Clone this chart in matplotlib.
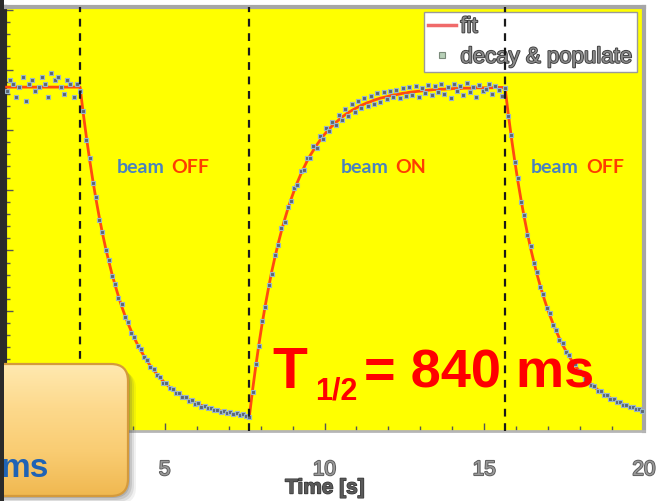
import numpy as np
import matplotlib
matplotlib.use("Agg")
import matplotlib.pyplot as plt
from matplotlib.patches import FancyBboxPatch, Rectangle
from matplotlib.lines import Line2D
from matplotlib.ticker import MultipleLocator
from matplotlib.colors import LinearSegmentedColormap
import matplotlib.patheffects as pe

# ---------------- data ----------------
t_start, t_step, n_pts = 0.05, 0.1, 200          # time bins [s]
beam_switch_times = [2.35, 7.65, 15.65]          # OFF, ON, OFF
beam_states = ["OFF", "ON", "OFF"]
xticks = [0, 5, 10, 15, 20]
xtick_labels = ["", "5", "10", "15", "20"]       # "0" is hidden by the call-out box
half_life_label = "840 ms"

fit_values = [
    # plateau (beam on)
    1.0, 1.0, 1.0, 1.0, 1.0, 1.0, 1.0, 1.0, 1.0, 1.0, 1.0, 1.0,
    1.0, 1.0, 1.0, 1.0, 1.0, 1.0, 1.0, 1.0, 1.0, 1.0, 1.0, 1.0,
    # decay (beam off)
    0.923, 0.853, 0.788, 0.728, 0.673, 0.622, 0.575, 0.532, 0.493, 0.456,
    0.423, 0.392, 0.363, 0.337, 0.313, 0.291, 0.270, 0.251, 0.234, 0.218,
    0.203, 0.190, 0.177, 0.166, 0.155, 0.145, 0.136, 0.128, 0.120, 0.113,
    0.107, 0.101, 0.096, 0.091, 0.086, 0.082, 0.078, 0.074, 0.071, 0.068,
    0.065, 0.062, 0.060, 0.058, 0.056, 0.054, 0.052, 0.050, 0.049, 0.048,
    0.046, 0.045, 0.044,
    # populate (beam on)
    0.120, 0.189, 0.254, 0.313, 0.367, 0.417, 0.464, 0.506, 0.545, 0.581,
    0.614, 0.645, 0.673, 0.699, 0.723, 0.745, 0.765, 0.784, 0.801, 0.816,
    0.831, 0.844, 0.857, 0.868, 0.879, 0.888, 0.897, 0.905, 0.913, 0.920,
    0.926, 0.932, 0.937, 0.942, 0.947, 0.951, 0.955, 0.958, 0.962, 0.965,
    0.968, 0.970, 0.972, 0.975, 0.977, 0.978, 0.980, 0.982, 0.983, 0.985,
    0.986, 0.987, 0.988, 0.989, 0.990, 0.991, 0.992, 0.993, 0.993, 0.994,
    0.994, 0.995, 0.995, 0.996, 0.996, 0.996, 0.997, 0.997, 0.997, 0.997,
    0.998, 0.998, 0.998, 0.998, 0.998, 0.998, 0.999, 0.999, 0.999, 0.999,
    # decay (beam off)
    0.923, 0.853, 0.788, 0.728, 0.673, 0.622, 0.575, 0.532, 0.493, 0.456,
    0.423, 0.392, 0.363, 0.337, 0.313, 0.291, 0.270, 0.251, 0.234, 0.218,
    0.203, 0.190, 0.177, 0.166, 0.155, 0.145, 0.136, 0.128, 0.120, 0.113,
    0.107, 0.101, 0.096, 0.091, 0.086, 0.082, 0.078, 0.074, 0.071, 0.068,
    0.065, 0.062, 0.060,
]

data_values = [
    0.99, 1.02, 1.01, 0.97, 1.00, 1.03, 0.96, 1.01, 1.02, 0.99, 1.00, 1.03,
    1.01, 0.97, 1.04, 1.02, 1.03, 1.00, 0.98, 1.02, 1.01, 0.97, 1.01, 0.99,
    0.930, 0.845, 0.795, 0.722, 0.680, 0.615, 0.580, 0.527, 0.498, 0.450,
    0.428, 0.387, 0.368, 0.331, 0.318, 0.286, 0.274, 0.247, 0.238, 0.214,
    0.207, 0.186, 0.181, 0.162, 0.158, 0.141, 0.139, 0.125, 0.123, 0.110,
    0.110, 0.098, 0.099, 0.088, 0.089, 0.079, 0.080, 0.071, 0.073, 0.066,
    0.067, 0.060, 0.062, 0.056, 0.058, 0.052, 0.054, 0.048, 0.051, 0.046,
    0.048, 0.043, 0.040,
    0.112, 0.196, 0.248, 0.320, 0.361, 0.424, 0.458, 0.512, 0.540, 0.590,
    0.608, 0.652, 0.668, 0.708, 0.716, 0.755, 0.760, 0.795, 0.793, 0.828,
    0.824, 0.858, 0.850, 0.880, 0.872, 0.900, 0.890, 0.918, 0.905, 0.935,
    0.915, 0.950, 0.928, 0.960, 0.940, 0.968, 0.945, 0.975, 0.952, 0.982,
    0.958, 0.985, 0.965, 0.990, 0.970, 0.992, 0.968, 0.996, 0.975, 1.000,
    0.978, 1.004, 0.972, 0.998, 0.984, 1.006, 0.976, 1.002, 0.985, 1.010,
    0.980, 0.999, 0.968, 1.008, 0.990, 1.003, 0.978, 1.012, 0.985, 1.000,
    0.972, 1.006, 0.988, 0.995, 1.010, 0.980, 1.004, 0.992, 0.975, 0.998,
    0.915, 0.860, 0.782, 0.735, 0.667, 0.628, 0.570, 0.538, 0.488, 0.461,
    0.418, 0.397, 0.358, 0.342, 0.309, 0.295, 0.266, 0.255, 0.230, 0.222,
    0.199, 0.194, 0.174, 0.169, 0.152, 0.148, 0.133, 0.131, 0.117, 0.116,
    0.104, 0.104, 0.093, 0.094, 0.083, 0.085, 0.075, 0.077, 0.069, 0.070,
    0.063, 0.064, 0.058,
]

t = t_start + t_step * np.arange(n_pts)

# ---------------- figure ----------------
W, H, DPI = 663, 502, 100
fig = plt.figure(figsize=(W / DPI, H / DPI), dpi=DPI, facecolor="white")

def fx(x):
    return x / W

def fy(y):
    return 1 - y / H

ax_l, ax_r, ax_t, ax_b = 5, 644, 8, 432
ax = fig.add_axes([fx(ax_l), fy(ax_b), (ax_r - ax_l) / W, (ax_b - ax_t) / H])
ax.set_facecolor("#FFFF00")
ax.set_xlim(0, 20)
ax.set_ylim(0, 1.233)

FONT = "Liberation Sans"

# fit line and data
ax.plot(t, fit_values, color="#FF4A10", lw=2.0, zorder=3, solid_joinstyle="round")
ax.plot(t, data_values, ls="none", marker="s", ms=2.8,
        mfc="#5a6672", mec="#9ab6ca", mew=0.8, zorder=4)

for xs in beam_switch_times:
    ax.axvline(xs, color="#1a1a1a", lw=1.6, ls=(0, (3.5, 3)), zorder=6)

# ticks
ax.set_xticks(xticks)
ax.set_xticklabels(xtick_labels)
ax.xaxis.set_minor_locator(MultipleLocator(1))
ax.yaxis.set_major_locator(MultipleLocator(0.175))
ax.yaxis.set_minor_locator(MultipleLocator(0.035))
ax.tick_params(axis="both", which="both", direction="in", color="#555555")
ax.tick_params(axis="x", which="major", length=6, width=1, pad=21,
               labelsize=15, labelcolor="#9a9a9a")
ax.tick_params(axis="x", which="minor", length=3.5, width=1)
ax.tick_params(axis="y", which="major", length=6, width=1, labelleft=False)
ax.tick_params(axis="y", which="minor", length=3.5, width=1)
for lab in ax.get_xticklabels():
    lab.set_family(FONT)
    lab.set_path_effects([pe.withStroke(linewidth=1.3, foreground="#5a5a5a")])

for side in ["top", "right"]:
    ax.spines[side].set_color("#a6a6a6")
    ax.spines[side].set_linewidth(3)
ax.spines["bottom"].set_color("#b5b5b5")
ax.spines["bottom"].set_linewidth(2)
ax.spines["left"].set_color("#2b2b2b")
ax.spines["left"].set_linewidth(3)

# legend
handles = [Line2D([], [], color="#F06A6A", lw=2.5),
           Line2D([], [], ls="none", marker="s", ms=4, mfc="#b8d0b8", mec="#7a8a7a", mew=0.8)]
leg = ax.legend(handles, ["fit", "decay & populate"], loc="upper right",
                bbox_to_anchor=((637 - ax_l) / (ax_r - ax_l), 1 - (13 - ax_t) / (ax_b - ax_t)),
                borderaxespad=0, fancybox=False, framealpha=1, edgecolor="#9a9a9a",
                prop={"family": FONT, "size": 16}, handlelength=1.25,
                handletextpad=0.2, labelspacing=0.42, borderpad=0.2)
leg.get_frame().set_linewidth(1.0)
leg.set_zorder(5)
for txt in leg.get_texts():
    txt.set_color("#8a8a8a")
    txt.set_path_effects([pe.withStroke(linewidth=1.3, foreground="#3c3c3c")])

# beam labels
beam_label_pos = [(165, 171), (389, 395), (579, 586)]
for (xb, xs_), state in zip(beam_label_pos, beam_states):
    fig.text(fx(xb), fy(168), "beam", ha="right", va="center", fontsize=14,
             family="Lato", weight="bold", color="#4A82BF", zorder=7)
    fig.text(fx(xs_), fy(168), state, ha="left", va="center", fontsize=14,
             family="Lato", weight="bold", color="#FF3C00", zorder=7)

# x label
fig.text(fx(325), fy(489), "Time [s]", ha="center", va="center", fontsize=15,
         family=FONT, weight="bold", color="#5a5a5a",
         path_effects=[pe.withStroke(linewidth=1.0, foreground="#333333")])

# half-life annotation
fig.text(fx(272), fy(388), "T", ha="left", va="baseline", fontsize=41,
         family=FONT, weight="bold", color="#FF0000", zorder=12)
fig.text(fx(315), fy(400), "1/2", ha="left", va="baseline", fontsize=22,
         family=FONT, weight="bold", color="#FF0000", zorder=12)
fig.text(fx(364), fy(388), "= " + half_life_label, ha="left", va="baseline", fontsize=39,
         family=FONT, weight="bold", color="#FF0000", zorder=12)

# overlay axes in pixel coordinates for the orange call-out box
ov = fig.add_axes([0, 0, 1, 1], zorder=10)
ov.set_xlim(0, W)
ov.set_ylim(H, 0)
ov.axis("off")
ov.patch.set_alpha(0)

bx0, by0, bw, bh = -40, 365, 168, 132
for off, alpha in [(8, 0.08), (6, 0.12), (4, 0.16), (2, 0.2)]:
    ov.add_patch(FancyBboxPatch((bx0 + off, by0 + off), bw, bh,
                                boxstyle="round,pad=0,rounding_size=17",
                                fc="#505050", ec="none", alpha=alpha, zorder=1))
box = FancyBboxPatch((bx0, by0), bw, bh, boxstyle="round,pad=0,rounding_size=17",
                     fc="none", ec="#D49A3C", lw=1.6, zorder=3)
ov.add_patch(box)
grad = np.linspace(0, 1, 256).reshape(-1, 1)
cmap = LinearSegmentedColormap.from_list("box", ["#FFE9B0", "#FDD98C", "#F9CC72", "#F0B850"])
im = ov.imshow(grad, cmap=cmap, extent=[bx0, bx0 + bw, by0 + bh, by0], aspect="auto",
               zorder=2, interpolation="bilinear")
im.set_clip_path(FancyBboxPatch((bx0, by0), bw, bh, boxstyle="round,pad=0,rounding_size=17",
                                transform=ov.transData))
ov.set_xlim(0, W)
ov.set_ylim(H, 0)
ov.text(1, 477, "ms", ha="left", va="baseline", fontsize=24,
        family=FONT, weight="bold", color="#1F63B5", zorder=4)

# dark strip at the left edge
ov.add_patch(Rectangle((0, 0), 4, H, fc="#2a2a2a", ec="none", zorder=5))

fig.savefig("out.png", dpi=DPI, facecolor="white")
